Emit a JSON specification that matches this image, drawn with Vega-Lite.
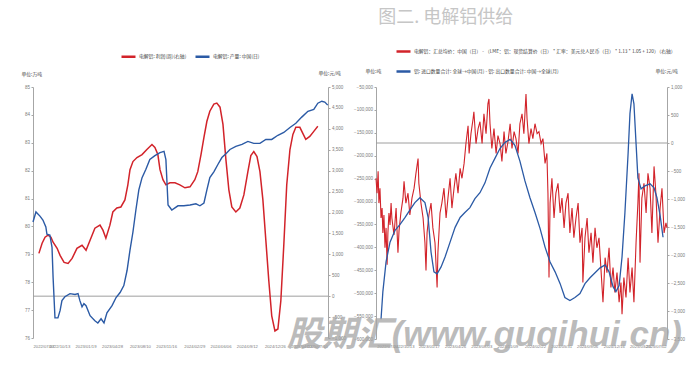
{
  "$schema": "https://vega.github.io/schema/vega-lite/v6.json",
  "background": "white",
  "padding": {"left": 21, "top": 9, "right": 2, "bottom": 2},
  "bounds": "flush",
  "spacing": 48,
  "title": {"text": "图二. 电解铝供给", "font": "Noto Sans CJK SC", "fontSize": 18, "fontWeight": "normal", "color": "#c6c6c6", "anchor": "middle", "dx": 93, "offset": 16},
  "resolve": {"scale": {"color": "independent"}, "legend": {"color": "independent"}},
  "config": {
    "view": {"stroke": null},
    "axis": {"grid": false, "labelFont": "Liberation Sans", "labelFontSize": 4.5, "labelColor": "#7a7a7a", "domainColor": "#a6a6a6", "tickColor": "#a6a6a6", "tickSize": 2, "titleFont": "Noto Sans CJK SC", "titleFontWeight": "normal", "titleFontSize": 4.8, "titleColor": "#444444", "labelOverlap": false},
    "legend": {"labelFont": "Noto Sans CJK SC", "labelFontSize": 4.8, "labelColor": "#444444", "symbolType": "stroke", "symbolStrokeWidth": 2.5, "symbolSize": 196, "labelLimit": 600, "padding": 0, "labelOffset": 2}
  },
  "datasets": {
    "leftBlue": [
      {"date":"2022-07-07","v":80.16},{"date":"2022-07-18","v":80.52},{"date":"2022-08-02","v":80.37},{"date":"2022-08-13","v":80.23},{"date":"2022-08-24","v":79.98},{"date":"2022-08-28","v":79.72},{"date":"2022-09-08","v":79.69},{"date":"2022-09-16","v":79.25},{"date":"2022-09-20","v":78.17},{"date":"2022-09-27","v":76.72},{"date":"2022-10-08","v":76.72},{"date":"2022-10-16","v":76.98},{"date":"2022-10-23","v":77.34},{"date":"2022-11-03","v":77.48},{"date":"2022-11-22","v":77.59},{"date":"2022-12-11","v":77.56},{"date":"2022-12-22","v":77.59},{"date":"2022-12-29","v":77.34},{"date":"2023-01-06","v":77.12},{"date":"2023-01-13","v":77.23},{"date":"2023-01-21","v":77.16},{"date":"2023-02-05","v":76.80},{"date":"2023-02-23","v":76.62},{"date":"2023-03-06","v":76.54},{"date":"2023-03-18","v":76.69},{"date":"2023-03-29","v":76.54},{"date":"2023-04-09","v":76.90},{"date":"2023-04-28","v":77.16},{"date":"2023-05-13","v":77.45},{"date":"2023-05-28","v":77.63},{"date":"2023-06-11","v":77.88},{"date":"2023-06-23","v":78.42},{"date":"2023-07-04","v":79.15},{"date":"2023-07-15","v":79.80},{"date":"2023-07-26","v":80.59},{"date":"2023-08-06","v":81.31},{"date":"2023-08-18","v":81.75},{"date":"2023-09-01","v":82.04},{"date":"2023-09-16","v":82.40},{"date":"2023-10-05","v":82.54},{"date":"2023-10-24","v":82.65},{"date":"2023-11-08","v":82.69},{"date":"2023-11-15","v":82.40},{"date":"2023-11-23","v":80.77},{"date":"2023-12-07","v":80.59},{"date":"2023-12-30","v":80.74},{"date":"2024-01-21","v":80.74},{"date":"2024-02-13","v":80.77},{"date":"2024-03-06","v":80.81},{"date":"2024-03-21","v":80.74},{"date":"2024-04-05","v":80.84},{"date":"2024-04-16","v":81.31},{"date":"2024-04-27","v":81.75},{"date":"2024-05-12","v":81.96},{"date":"2024-05-27","v":82.22},{"date":"2024-06-11","v":82.47},{"date":"2024-06-26","v":82.61},{"date":"2024-07-11","v":82.76},{"date":"2024-08-02","v":82.87},{"date":"2024-08-25","v":82.94},{"date":"2024-09-16","v":83.05},{"date":"2024-10-08","v":82.98},{"date":"2024-10-31","v":82.98},{"date":"2024-11-22","v":83.12},{"date":"2024-12-14","v":83.12},{"date":"2025-01-06","v":83.27},{"date":"2025-01-28","v":83.37},{"date":"2025-02-20","v":83.55},{"date":"2025-03-14","v":83.70},{"date":"2025-04-05","v":83.92},{"date":"2025-04-28","v":84.13},{"date":"2025-05-20","v":84.20},{"date":"2025-06-04","v":84.42},{"date":"2025-06-19","v":84.49},{"date":"2025-06-30","v":84.46},{"date":"2025-07-11","v":84.35}
    ],
    "leftRed": [
      {"date":"2022-07-29","v":1023},{"date":"2022-08-10","v":1265},{"date":"2022-08-21","v":1409},{"date":"2022-09-01","v":1457},{"date":"2022-09-12","v":1409},{"date":"2022-09-20","v":1289},{"date":"2022-10-05","v":1144},{"date":"2022-10-16","v":975},{"date":"2022-10-31","v":807},{"date":"2022-11-15","v":783},{"date":"2022-11-30","v":903},{"date":"2022-12-18","v":1144},{"date":"2023-01-06","v":1216},{"date":"2023-01-21","v":1096},{"date":"2023-02-05","v":1337},{"date":"2023-02-23","v":1626},{"date":"2023-03-14","v":1698},{"date":"2023-03-25","v":1578},{"date":"2023-04-05","v":1385},{"date":"2023-04-20","v":1698},{"date":"2023-05-01","v":2012},{"date":"2023-05-16","v":2108},{"date":"2023-05-31","v":2132},{"date":"2023-06-15","v":2301},{"date":"2023-06-26","v":2662},{"date":"2023-07-04","v":3024},{"date":"2023-07-15","v":3217},{"date":"2023-07-30","v":3313},{"date":"2023-08-18","v":3385},{"date":"2023-09-05","v":3506},{"date":"2023-09-24","v":3626},{"date":"2023-10-05","v":3554},{"date":"2023-10-16","v":3385},{"date":"2023-10-24","v":3024},{"date":"2023-11-04","v":2783},{"date":"2023-11-15","v":2662},{"date":"2023-11-30","v":2710},{"date":"2023-12-19","v":2710},{"date":"2024-01-06","v":2662},{"date":"2024-01-25","v":2590},{"date":"2024-02-13","v":2614},{"date":"2024-03-02","v":2783},{"date":"2024-03-13","v":2976},{"date":"2024-03-25","v":3385},{"date":"2024-04-05","v":3795},{"date":"2024-04-16","v":4181},{"date":"2024-04-27","v":4422},{"date":"2024-05-12","v":4590},{"date":"2024-05-23","v":4614},{"date":"2024-06-04","v":4518},{"date":"2024-06-15","v":4108},{"date":"2024-06-26","v":3265},{"date":"2024-07-07","v":2542},{"date":"2024-07-18","v":2132},{"date":"2024-08-02","v":2012},{"date":"2024-08-17","v":2108},{"date":"2024-09-01","v":2421},{"date":"2024-09-16","v":2976},{"date":"2024-09-27","v":3361},{"date":"2024-10-08","v":3458},{"date":"2024-10-20","v":3337},{"date":"2024-10-31","v":2976},{"date":"2024-11-11","v":2301},{"date":"2024-11-22","v":1337},{"date":"2024-12-03","v":373},{"date":"2024-12-14","v":-471},{"date":"2024-12-26","v":-832},{"date":"2025-01-06","v":-784},{"date":"2025-01-17","v":-109},{"date":"2025-01-28","v":1216},{"date":"2025-02-08","v":2662},{"date":"2025-02-20","v":3506},{"date":"2025-03-03","v":3867},{"date":"2025-03-14","v":4036},{"date":"2025-03-29","v":4036},{"date":"2025-04-09","v":3891},{"date":"2025-04-20","v":3747},{"date":"2025-05-05","v":3819},{"date":"2025-05-20","v":3940},{"date":"2025-06-04","v":4060}
    ],
    "rightBlue": [
      {"date":"2022-07-20","v":-556900},{"date":"2022-07-27","v":-496500},{"date":"2022-08-08","v":-431800},{"date":"2022-08-23","v":-388600},{"date":"2022-09-11","v":-362800},{"date":"2022-09-30","v":-349800},{"date":"2022-10-19","v":-334700},{"date":"2022-11-07","v":-317500},{"date":"2022-11-25","v":-302400},{"date":"2022-12-14","v":-291600},{"date":"2023-01-02","v":-302400},{"date":"2023-01-14","v":-334700},{"date":"2023-01-25","v":-410200},{"date":"2023-02-05","v":-453400},{"date":"2023-02-17","v":-457700},{"date":"2023-03-04","v":-442600},{"date":"2023-03-19","v":-421000},{"date":"2023-04-07","v":-388600},{"date":"2023-04-26","v":-356300},{"date":"2023-05-15","v":-334700},{"date":"2023-06-02","v":-323900},{"date":"2023-06-21","v":-313200},{"date":"2023-07-10","v":-293700},{"date":"2023-07-29","v":-280800},{"date":"2023-08-17","v":-259200},{"date":"2023-09-05","v":-226900},{"date":"2023-09-24","v":-205300},{"date":"2023-10-13","v":-183700},{"date":"2023-11-01","v":-170800},{"date":"2023-11-20","v":-164300},{"date":"2023-12-08","v":-177300},{"date":"2023-12-27","v":-211800},{"date":"2024-01-15","v":-254900},{"date":"2024-02-03","v":-291600},{"date":"2024-02-22","v":-323900},{"date":"2024-03-12","v":-358500},{"date":"2024-03-31","v":-399400},{"date":"2024-04-19","v":-431800},{"date":"2024-05-08","v":-453400},{"date":"2024-05-27","v":-479200},{"date":"2024-06-14","v":-509400},{"date":"2024-07-03","v":-515900},{"date":"2024-07-22","v":-509400},{"date":"2024-08-10","v":-500800},{"date":"2024-08-29","v":-479200},{"date":"2024-09-17","v":-466300},{"date":"2024-10-06","v":-455500},{"date":"2024-10-25","v":-444700},{"date":"2024-11-13","v":-438300},{"date":"2024-11-28","v":-453400},{"date":"2024-12-13","v":-485700},{"date":"2024-12-24","v":-496500},{"date":"2025-01-05","v":-483600},{"date":"2025-01-16","v":-421000},{"date":"2025-01-27","v":-323900},{"date":"2025-02-08","v":-194500},{"date":"2025-02-15","v":-108200},{"date":"2025-02-23","v":-65100},{"date":"2025-03-02","v":-86700},{"date":"2025-03-10","v":-173000},{"date":"2025-03-17","v":-248400},{"date":"2025-03-29","v":-272200},{"date":"2025-04-13","v":-265700},{"date":"2025-05-02","v":-261400},{"date":"2025-05-17","v":-270000},{"date":"2025-05-28","v":-291600},{"date":"2025-06-09","v":-330400},{"date":"2025-06-20","v":-377900}
    ],
    "rightRed": [
      {"date":"2022-07-01","v":-630},{"date":"2022-07-05","v":-896},{"date":"2022-07-09","v":-506},{"date":"2022-07-12","v":-1073},{"date":"2022-07-16","v":-807},{"date":"2022-07-20","v":-1339},{"date":"2022-07-24","v":-1162},{"date":"2022-07-27","v":-1605},{"date":"2022-07-31","v":-1286},{"date":"2022-08-04","v":-1871},{"date":"2022-08-08","v":-1516},{"date":"2022-08-12","v":-2172},{"date":"2022-08-15","v":-1605},{"date":"2022-08-19","v":-1250},{"date":"2022-08-23","v":-1463},{"date":"2022-08-27","v":-1073},{"date":"2022-08-30","v":-1339},{"date":"2022-09-07","v":-1640},{"date":"2022-09-15","v":-1162},{"date":"2022-09-22","v":-1959},{"date":"2022-09-26","v":-1569},{"date":"2022-10-03","v":-1250},{"date":"2022-10-11","v":-985},{"date":"2022-10-15","v":-683},{"date":"2022-10-22","v":-1073},{"date":"2022-10-30","v":-896},{"date":"2022-11-06","v":-1286},{"date":"2022-11-14","v":-985},{"date":"2022-11-22","v":-807},{"date":"2022-11-29","v":-542},{"date":"2022-12-07","v":-276},{"date":"2022-12-10","v":-719},{"date":"2022-12-18","v":-1073},{"date":"2022-12-26","v":-1339},{"date":"2023-01-02","v":-1782},{"date":"2023-01-06","v":-2278},{"date":"2023-01-10","v":-1605},{"date":"2023-01-17","v":-1286},{"date":"2023-01-25","v":-1073},{"date":"2023-02-01","v":-1516},{"date":"2023-02-09","v":-1782},{"date":"2023-02-17","v":-2579},{"date":"2023-02-20","v":-1959},{"date":"2023-02-28","v":-1250},{"date":"2023-03-07","v":-1073},{"date":"2023-03-15","v":-807},{"date":"2023-03-23","v":-1339},{"date":"2023-03-30","v":-985},{"date":"2023-04-07","v":-630},{"date":"2023-04-14","v":-1162},{"date":"2023-04-22","v":-807},{"date":"2023-04-29","v":-542},{"date":"2023-05-07","v":-896},{"date":"2023-05-15","v":-453},{"date":"2023-05-22","v":-630},{"date":"2023-05-30","v":-364},{"date":"2023-06-06","v":-10},{"date":"2023-06-14","v":309},{"date":"2023-06-18","v":-187},{"date":"2023-06-25","v":167},{"date":"2023-07-03","v":433},{"date":"2023-07-06","v":557},{"date":"2023-07-14","v":-10},{"date":"2023-07-22","v":256},{"date":"2023-07-29","v":380},{"date":"2023-08-06","v":-10},{"date":"2023-08-13","v":522},{"date":"2023-08-21","v":167},{"date":"2023-08-28","v":699},{"date":"2023-09-01","v":787},{"date":"2023-09-05","v":344},{"date":"2023-09-12","v":-99},{"date":"2023-09-20","v":256},{"date":"2023-09-28","v":-187},{"date":"2023-10-05","v":132},{"date":"2023-10-13","v":-10},{"date":"2023-10-20","v":-329},{"date":"2023-10-28","v":203},{"date":"2023-11-04","v":-187},{"date":"2023-11-12","v":25},{"date":"2023-11-20","v":344},{"date":"2023-11-27","v":-99},{"date":"2023-12-05","v":203},{"date":"2023-12-12","v":79},{"date":"2023-12-20","v":-187},{"date":"2023-12-27","v":344},{"date":"2024-01-04","v":522},{"date":"2024-01-11","v":167},{"date":"2024-01-19","v":876},{"date":"2024-01-23","v":433},{"date":"2024-01-30","v":-10},{"date":"2024-02-07","v":256},{"date":"2024-02-14","v":79},{"date":"2024-02-22","v":344},{"date":"2024-03-01","v":167},{"date":"2024-03-08","v":203},{"date":"2024-03-16","v":-10},{"date":"2024-03-23","v":79},{"date":"2024-03-31","v":-364},{"date":"2024-04-07","v":-187},{"date":"2024-04-11","v":-896},{"date":"2024-04-15","v":-2402},{"date":"2024-04-19","v":-1073},{"date":"2024-04-26","v":-630},{"date":"2024-05-04","v":-1339},{"date":"2024-05-11","v":-896},{"date":"2024-05-19","v":-719},{"date":"2024-05-27","v":-1250},{"date":"2024-06-03","v":-985},{"date":"2024-06-11","v":-1516},{"date":"2024-06-18","v":-1073},{"date":"2024-06-26","v":-896},{"date":"2024-07-03","v":-1605},{"date":"2024-07-11","v":-1162},{"date":"2024-07-18","v":-1693},{"date":"2024-07-26","v":-1339},{"date":"2024-08-03","v":-1073},{"date":"2024-08-10","v":-1782},{"date":"2024-08-18","v":-1516},{"date":"2024-08-21","v":-2491},{"date":"2024-08-29","v":-1693},{"date":"2024-09-06","v":-1339},{"date":"2024-09-13","v":-1959},{"date":"2024-09-21","v":-1605},{"date":"2024-09-28","v":-2136},{"date":"2024-10-06","v":-1516},{"date":"2024-10-13","v":-1871},{"date":"2024-10-21","v":-1693},{"date":"2024-10-28","v":-2225},{"date":"2024-11-05","v":-2845},{"date":"2024-11-13","v":-2048},{"date":"2024-11-20","v":-2314},{"date":"2024-11-28","v":-1871},{"date":"2024-12-05","v":-2579},{"date":"2024-12-13","v":-2225},{"date":"2024-12-20","v":-2668},{"date":"2024-12-28","v":-2314},{"date":"2025-01-05","v":-2845},{"date":"2025-01-12","v":-2491},{"date":"2025-01-16","v":-3058},{"date":"2025-01-23","v":-2402},{"date":"2025-01-31","v":-2757},{"date":"2025-02-08","v":-2048},{"date":"2025-02-15","v":-2668},{"date":"2025-02-23","v":-2225},{"date":"2025-03-02","v":-2845},{"date":"2025-03-10","v":-1782},{"date":"2025-03-17","v":-1073},{"date":"2025-03-21","v":-542},{"date":"2025-03-25","v":-2136},{"date":"2025-04-01","v":-985},{"date":"2025-04-09","v":-719},{"date":"2025-04-17","v":-1250},{"date":"2025-04-24","v":-542},{"date":"2025-05-02","v":-807},{"date":"2025-05-09","v":-1605},{"date":"2025-05-17","v":-418},{"date":"2025-05-24","v":-896},{"date":"2025-06-01","v":-1782},{"date":"2025-06-09","v":-1162},{"date":"2025-06-16","v":-807},{"date":"2025-06-24","v":-1605},{"date":"2025-07-01","v":-1428},{"date":"2025-07-05","v":-1516}
    ]
  },
  "hconcat": [
    {
      "width": 295,
      "height": 251,
      "layer": [
        {
          "data": {"values": [{}]},
          "mark": {"type": "rule", "color": "#9e9e9e", "strokeWidth": 1},
          "encoding": {"y": {"datum": 0, "type": "quantitative", "scale": {"domain": [-1000, 5000], "nice": false, "zero": false}, "axis": null}}
        },
        {
          "data": {"name": "leftRed"},
          "mark": {"type": "line", "strokeWidth": 1.5},
          "encoding": {
            "x": {"field": "date", "type": "temporal", "scale": {"type": "utc", "domain": [{"year": 2022, "month": 7, "date": 7, "utc": true}, {"year": 2025, "month": 7, "date": 12, "utc": true}]}, "axis": {"title": null, "domain": false, "ticks": false, "labelPadding": 6, "labelFontSize": 4.2, "format": "%Y/%m/%d", "labelOverlap": false, "values": [{"year": 2022, "month": 7, "date": 7, "utc": true}, {"year": 2022, "month": 10, "date": 13, "utc": true}, {"year": 2023, "month": 1, "date": 19, "utc": true}, {"year": 2023, "month": 4, "date": 28, "utc": true}, {"year": 2023, "month": 8, "date": 10, "utc": true}, {"year": 2023, "month": 11, "date": 16, "utc": true}, {"year": 2024, "month": 2, "date": 29, "utc": true}, {"year": 2024, "month": 6, "date": 6, "utc": true}, {"year": 2024, "month": 9, "date": 12, "utc": true}, {"year": 2024, "month": 12, "date": 26, "utc": true}, {"year": 2025, "month": 4, "date": 3, "utc": true}, {"year": 2025, "month": 7, "date": 10, "utc": true}]}},
            "y": {"field": "v", "type": "quantitative", "scale": {"domain": [-1000, 5000], "nice": false, "zero": false}, "axis": {"orient": "right", "format": ",.0f", "values": [-1000, -500, 0, 500, 1000, 1500, 2000, 2500, 3000, 3500, 4000, 4500, 5000], "title": "单位:元/吨", "titleAngle": 0, "titleAlign": "left", "titleBaseline": "middle", "titleX": -10, "titleY": -14, "labelPadding": 1.5}},
            "color": {"datum": "电解铝: 利润(周)(右轴)", "scale": {"domain": ["电解铝: 利润(周)(右轴)", "电解铝: 产量: 中国(日)"], "range": ["#d2232a", "#2b5aa5"]}, "legend": {"orient": "none", "legendX": 87, "legendY": -39, "direction": "horizontal", "title": null, "columnPadding": 3}}
          }
        },
        {
          "data": {"name": "leftBlue"},
          "mark": {"type": "line", "strokeWidth": 1.4},
          "encoding": {
            "x": {"field": "date", "type": "temporal", "scale": {"type": "utc", "domain": [{"year": 2022, "month": 7, "date": 7, "utc": true}, {"year": 2025, "month": 7, "date": 12, "utc": true}]}, "axis": {"title": null, "domain": false, "ticks": false, "labelPadding": 6, "labelFontSize": 4.2, "format": "%Y/%m/%d", "labelOverlap": false, "values": [{"year": 2022, "month": 7, "date": 7, "utc": true}, {"year": 2022, "month": 10, "date": 13, "utc": true}, {"year": 2023, "month": 1, "date": 19, "utc": true}, {"year": 2023, "month": 4, "date": 28, "utc": true}, {"year": 2023, "month": 8, "date": 10, "utc": true}, {"year": 2023, "month": 11, "date": 16, "utc": true}, {"year": 2024, "month": 2, "date": 29, "utc": true}, {"year": 2024, "month": 6, "date": 6, "utc": true}, {"year": 2024, "month": 9, "date": 12, "utc": true}, {"year": 2024, "month": 12, "date": 26, "utc": true}, {"year": 2025, "month": 4, "date": 3, "utc": true}, {"year": 2025, "month": 7, "date": 10, "utc": true}]}},
            "y": {"field": "v", "type": "quantitative", "scale": {"domain": [76, 85], "nice": false, "zero": false}, "axis": {"orient": "left", "values": [76, 77, 78, 79, 80, 81, 82, 83, 84, 85], "title": "单位:万吨", "titleAngle": 0, "titleAlign": "left", "titleBaseline": "middle", "titleX": -12, "titleY": -13, "labelPadding": 1.5}},
            "color": {"datum": "电解铝: 产量: 中国(日)", "scale": {"domain": ["电解铝: 利润(周)(右轴)", "电解铝: 产量: 中国(日)"], "range": ["#d2232a", "#2b5aa5"]}}
          }
        }
      ],
      "resolve": {"scale": {"y": "independent"}}
    },
    {
      "width": 291,
      "height": 252,
      "title": {"text": "股期汇(www.guqihui.cn)", "orient": "bottom", "anchor": "end", "frame": "group", "font": "Liberation Sans, Noto Sans CJK SC", "fontSize": 35, "fontWeight": "bold", "fontStyle": "italic", "color": "rgba(165,165,165,0.75)", "offset": -30, "dx": 15},
      "layer": [
        {
          "data": {"values": [{}]},
          "mark": {"type": "rule", "color": "#9e9e9e", "strokeWidth": 1},
          "encoding": {"y": {"datum": 0, "type": "quantitative", "scale": {"domain": [-3500, 1000], "nice": false, "zero": false}, "axis": null}}
        },
        {
          "data": {"name": "rightRed"},
          "mark": {"type": "line", "strokeWidth": 1.1},
          "encoding": {
            "x": {"field": "date", "type": "temporal", "scale": {"type": "utc", "domain": [{"year": 2022, "month": 7, "date": 1, "utc": true}, {"year": 2025, "month": 7, "date": 5, "utc": true}]}, "axis": {"title": null, "domain": false, "ticks": false, "labelPadding": 5, "labelFontSize": 4.2, "format": "%Y/%m/%d", "labelOverlap": false, "values": [{"year": 2022, "month": 7, "date": 4, "utc": true}, {"year": 2022, "month": 10, "date": 13, "utc": true}, {"year": 2023, "month": 1, "date": 17, "utc": true}, {"year": 2023, "month": 4, "date": 26, "utc": true}, {"year": 2023, "month": 8, "date": 3, "utc": true}, {"year": 2023, "month": 11, "date": 9, "utc": true}, {"year": 2024, "month": 2, "date": 22, "utc": true}, {"year": 2024, "month": 5, "date": 31, "utc": true}, {"year": 2024, "month": 9, "date": 6, "utc": true}, {"year": 2024, "month": 12, "date": 16, "utc": true}, {"year": 2025, "month": 3, "date": 25, "utc": true}, {"year": 2025, "month": 7, "date": 2, "utc": true}]}},
            "y": {"field": "v", "type": "quantitative", "scale": {"domain": [-3500, 1000], "nice": false, "zero": false}, "axis": {"orient": "right", "format": ",.0f", "values": [-3500, -3000, -2500, -2000, -1500, -1000, -500, 0, 500, 1000], "title": "单位:元/吨", "titleAngle": 0, "titleAlign": "left", "titleBaseline": "middle", "titleX": -12, "titleY": -16, "labelPadding": 1.5}},
            "color": {"datum": "电解铝：汇总均价：中国（日） - （LME：铝：现货结算价（日） * 汇率：美元兑人民币（日） * 1.13 * 1.05 + 120）（右轴）", "scale": {"domain": ["电解铝：汇总均价：中国（日） - （LME：铝：现货结算价（日） * 汇率：美元兑人民币（日） * 1.13 * 1.05 + 120）（右轴）", "铝: 进口数量合计: 全球→中国(月) - 铝: 出口数量合计: 中国→全球(月)"], "range": ["#d2232a", "#2b5aa5"]}, "legend": {"orient": "none", "legendX": 19, "legendY": -44, "direction": "vertical", "title": null, "rowPadding": 6}}
          }
        },
        {
          "data": {"name": "rightBlue"},
          "mark": {"type": "line", "strokeWidth": 1.3},
          "encoding": {
            "x": {"field": "date", "type": "temporal", "scale": {"type": "utc", "domain": [{"year": 2022, "month": 7, "date": 1, "utc": true}, {"year": 2025, "month": 7, "date": 5, "utc": true}]}, "axis": {"title": null, "domain": false, "ticks": false, "labelPadding": 5, "labelFontSize": 4.2, "format": "%Y/%m/%d", "labelOverlap": false, "values": [{"year": 2022, "month": 7, "date": 4, "utc": true}, {"year": 2022, "month": 10, "date": 13, "utc": true}, {"year": 2023, "month": 1, "date": 17, "utc": true}, {"year": 2023, "month": 4, "date": 26, "utc": true}, {"year": 2023, "month": 8, "date": 3, "utc": true}, {"year": 2023, "month": 11, "date": 9, "utc": true}, {"year": 2024, "month": 2, "date": 22, "utc": true}, {"year": 2024, "month": 5, "date": 31, "utc": true}, {"year": 2024, "month": 9, "date": 6, "utc": true}, {"year": 2024, "month": 12, "date": 16, "utc": true}, {"year": 2025, "month": 3, "date": 25, "utc": true}, {"year": 2025, "month": 7, "date": 2, "utc": true}]}},
            "y": {"field": "v", "type": "quantitative", "scale": {"domain": [-600000, -50000], "nice": false, "zero": false}, "axis": {"orient": "left", "format": ",.0f", "values": [-600000, -550000, -500000, -450000, -400000, -350000, -300000, -250000, -200000, -150000, -100000, -50000], "title": "单位:吨", "titleAngle": 0, "titleAlign": "left", "titleBaseline": "middle", "titleX": -11, "titleY": -16, "labelPadding": 1.5}},
            "color": {"datum": "铝: 进口数量合计: 全球→中国(月) - 铝: 出口数量合计: 中国→全球(月)", "scale": {"domain": ["电解铝：汇总均价：中国（日） - （LME：铝：现货结算价（日） * 汇率：美元兑人民币（日） * 1.13 * 1.05 + 120）（右轴）", "铝: 进口数量合计: 全球→中国(月) - 铝: 出口数量合计: 中国→全球(月)"], "range": ["#d2232a", "#2b5aa5"]}}
          }
        }
      ],
      "resolve": {"scale": {"y": "independent"}}
    }
  ]
}
